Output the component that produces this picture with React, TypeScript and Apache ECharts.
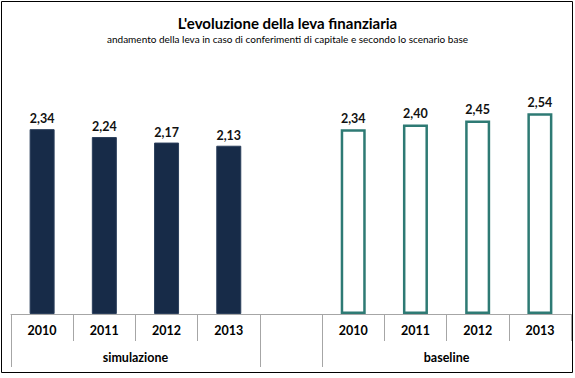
import React, { useEffect, useRef } from "react";
import * as echarts from "echarts";

const title = "L'evoluzione della leva finanziaria";
const subtitle = "andamento della leva in caso di conferimenti di capitale e secondo lo scenario base";
const years = ["2010", "2011", "2012", "2013", "", "2010", "2011", "2012", "2013"];
const groupLabels = ["", "", "simulazione", "", "", "", "", "baseline", "", ""];
const groupBoundaries = [0, 4, 5, 9];
const simulazione = [2.34, 2.24, 2.17, 2.13, "-", "-", "-", "-", "-"];
const baseline = ["-", "-", "-", "-", "-", 2.34, 2.40, 2.45, 2.54];

const fmt = (v: number) => v.toFixed(2).replace(".", ",");
const FONT = "Lato";

export default function App() {
  const ref = useRef<HTMLDivElement>(null);
  useEffect(() => {
    const chart = echarts.init(ref.current!, null, { renderer: "svg" });
    const labelStyle = {
      show: true,
      position: "top" as const,
      distance: 4,
      fontFamily: FONT,
      fontWeight: "bold" as const,
      fontSize: 12.5,
      color: "#111",
      formatter: (p: any) => fmt(p.value),
    };
    chart.setOption({
      animation: false,
      backgroundColor: "#ffffff",
      title: {
        text: title,
        subtext: subtitle,
        left: "center",
        top: 10,
        itemGap: 4,
        textStyle: { fontFamily: FONT, fontWeight: "bold", fontSize: 15, color: "#000" },
        subtextStyle: { fontFamily: FONT, fontSize: 10, color: "#000" },
      },
      graphic: [
        {
          type: "rect",
          shape: { x: 1.5, y: 1.5, width: 571, height: 371 },
          style: { fill: "none", stroke: "#000", lineWidth: 1 },
          silent: true,
        },
      ],
      grid: { left: 11, right: 4, top: 77, bottom: 64 },
      xAxis: [
        {
          type: "category",
          data: years,
          position: "bottom",
          axisLine: { show: true, lineStyle: { color: "#a6a6a6", width: 1 } },
          axisTick: { show: true, length: 27, interval: 0, lineStyle: { color: "#a6a6a6" } },
          axisLabel: {
            interval: 0,
            margin: 10,
            fontFamily: FONT,
            fontWeight: "bold",
            fontSize: 12.5,
            color: "#000",
          },
        },
        {
          type: "category",
          data: groupLabels,
          position: "bottom",
          boundaryGap: false,
          axisLine: { show: false },
          axisTick: {
            show: true,
            length: 53,
            interval: (i: number) => groupBoundaries.indexOf(i) >= 0 && i !== 9,
            lineStyle: { color: "#a6a6a6" },
          },
          axisLabel: {
            interval: 0,
            margin: 37,
            fontFamily: FONT,
            fontWeight: "bold",
            fontSize: 12.5,
            color: "#000",
          },
        },
      ],
      yAxis: { type: "value", min: 0, max: 3, show: false, splitLine: { show: false } },
      series: [
        {
          type: "bar",
          name: "simulazione",
          data: simulazione,
          barWidth: 25,
          barGap: "-100%",
          itemStyle: { color: "#172b48", borderColor: "#2b3f5c", borderWidth: 1 },
          label: labelStyle,
        },
        {
          type: "bar",
          name: "baseline",
          data: baseline,
          barWidth: 25,
          itemStyle: { color: "#ffffff", borderColor: "#2e7a74", borderWidth: 2.5 },
          label: labelStyle,
        },
      ],
    });
    return () => chart.dispose();
  }, []);
  return <div ref={ref} style={{ width: 575, height: 378, position: "absolute", left: 0, top: 0 }} />;
}
